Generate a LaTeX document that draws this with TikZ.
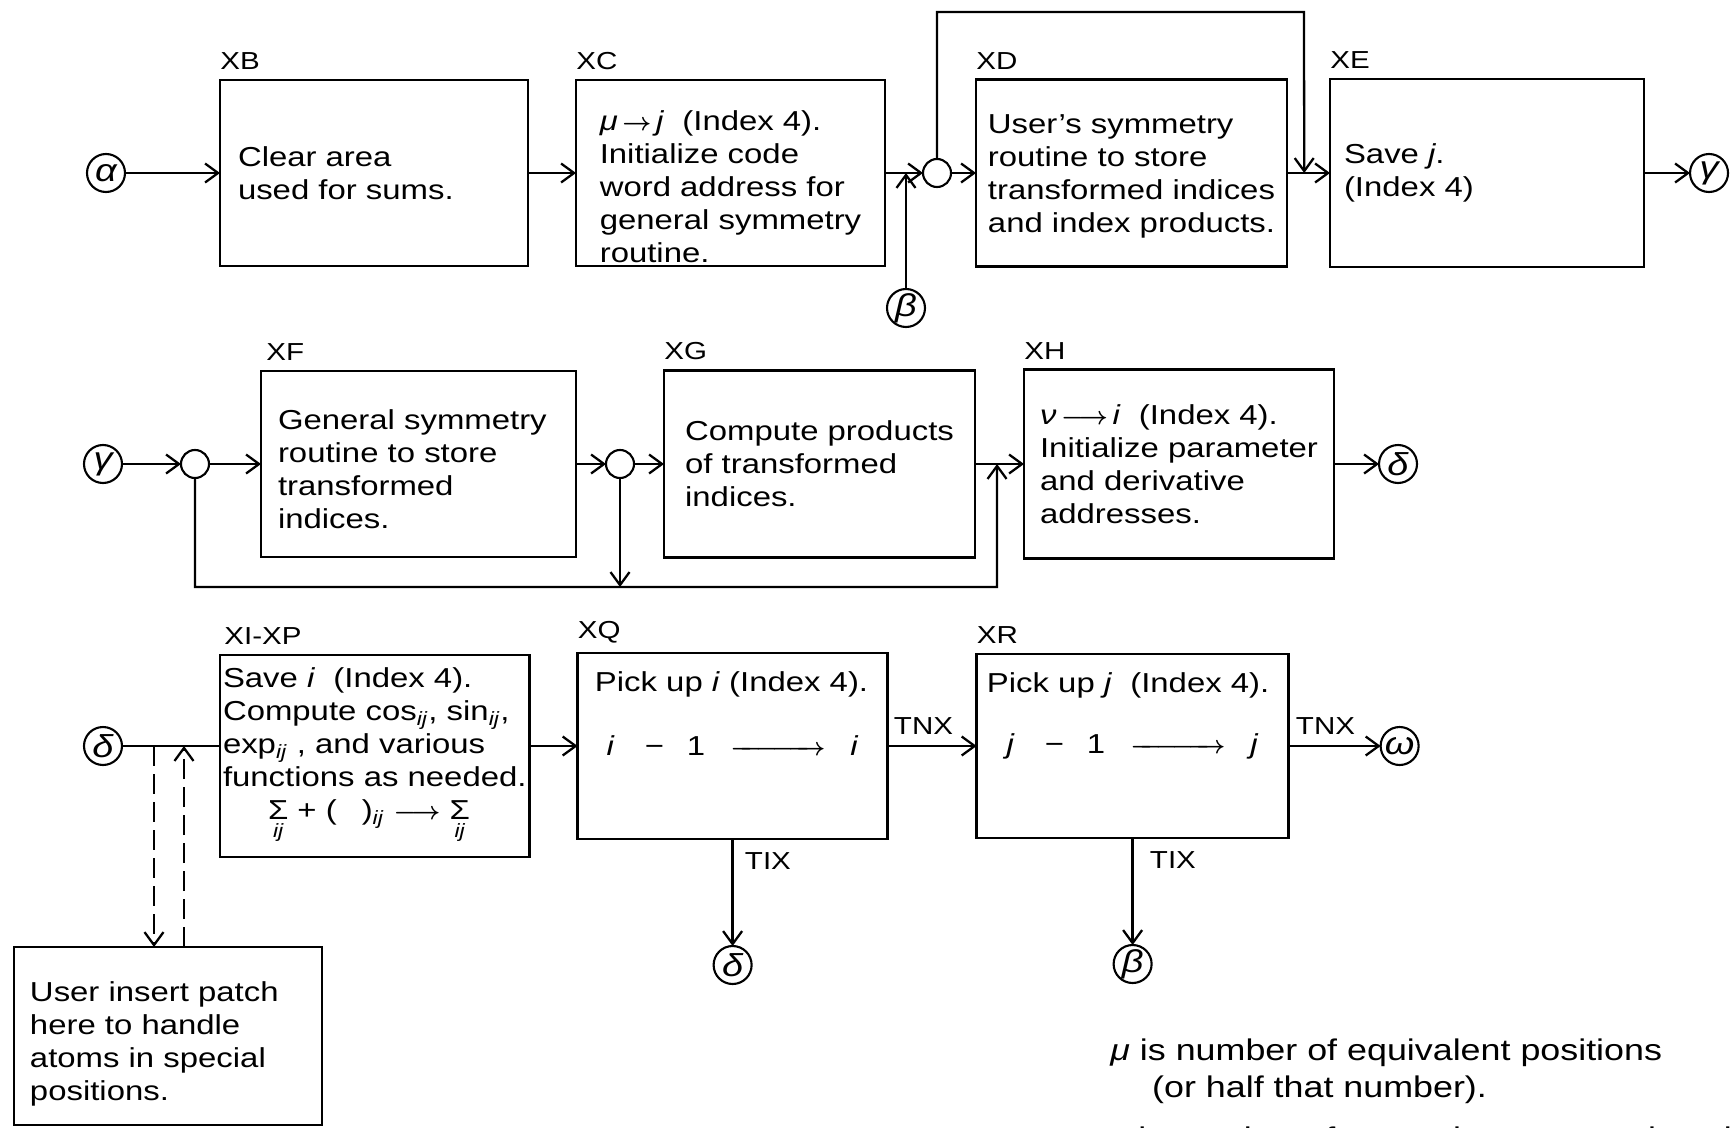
\documentclass[tikz,border=0pt]{standalone}
\usepackage{amsmath}
\usepackage{fontspec}
\setmainfont{Liberation Sans}[FakeStretch=1.2]
\usetikzlibrary{arrows.meta,positioning,calc}
\tikzset{
  fblk/.style={rectangle, draw, line width=1.4pt, align=left, inner xsep=0.6mm, inner ysep=0pt, outer sep=0pt,
               font=\fontsize{15.6}{18.8}\selectfont},
  fcirc/.style={circle, draw, line width=1.2pt, inner sep=0pt, outer sep=0pt, minimum size=7.6mm,
               font=\fontsize{18}{18}\selectfont\itshape},
  fjn/.style={circle, draw, line width=1.2pt, inner sep=0pt, outer sep=0pt, minimum size=5.6mm},
  ftag/.style={inner sep=0pt, font=\fontsize{14}{16}\selectfont},
  ftxt/.style={inner sep=0pt, font=\fontsize{15.6}{18.8}\selectfont},
  farr/.style={-{Straight Barb[length=2.6mm,width=3.8mm]}, line width=1.3pt},
  fline/.style={line width=1.3pt},
  fdash/.style={dash pattern=on 4mm off 1.6mm},
}

\begin{document}
\begin{tikzpicture}[x=0.2mm,y=-0.2mm]
        \useasboundingbox (0,0) rectangle (1731,1127);
        \clip (0,0) rectangle (1731,1127);
        % first row
        \node[fcirc](alpha) at (106,173){α};
        \node[fblk,minimum width=61.6mm,minimum height=37.2mm,text width=54.4mm,inner xsep=3.6mm,right=19mm of alpha](xb){Clear area\\used for sums.};
        \node[fblk,minimum width=61.8mm,minimum height=37.2mm,right=9.6mm of xb](xc){\rule{0pt}{9.6mm}\textit{μ}\,{\boldmath$\rightarrow$}\,\textit{j}\ \ (Index 4).\\Initialize code\\word address for\\general symmetry\\routine.};
        \node[fjn,right=7.6mm of xc](j1){};
        \node[fblk,minimum width=62.2mm,minimum height=37.4mm,right=5mm of j1](xd){\rule{0pt}{5.2mm}User's symmetry\\routine to store\\transformed indices\\and index products.};
        \node[fblk,minimum width=62.8mm,minimum height=37.6mm,text width=57.2mm,inner xsep=2.8mm,right=8.6mm of xd](xe){Save \textit{j}.\\(Index 4)};
        \node[fcirc,right=9.2mm of xe](gamma1){γ};
        \node[fcirc](beta1) at (906,308){β};
        \node[ftag,anchor=south west](lxb) at ([yshift=2mm]xb.north west){XB};
        \node[ftag,anchor=south west](lxc) at ([yshift=2mm]xc.north west){XC};
        \node[ftag,anchor=south west](lxd) at ([yshift=2mm]xd.north west){XD};
        \node[ftag,anchor=south west](lxe) at ([yshift=2mm]xe.north west){XE};
        \draw[farr](alpha)--(xb);\draw[farr](xb)--(xc);\draw[farr](xc)--(j1);\draw[farr](j1)--(xd);\draw[farr](xd)--(xe);\draw[farr](xe)--(gamma1);
        \draw[farr](beta1)--(beta1 |- j1);
        \coordinate (fb1) at ($(xd.east)!0.4!(xe.west)$);
        \coordinate (top1) at (1304,12);
        \draw[farr](j1.north) |- (top1) -- (fb1);
        % second row
        \node[fcirc](gamma2) at (103,464){γ};
        \node[fjn,right=11.8mm of gamma2](j2){};
        \node[fblk,minimum width=63mm,minimum height=37.2mm,text width=56.2mm,inner xsep=3.4mm,right=10.4mm of j2](xf){\rule{0pt}{6mm}General symmetry\\routine to store\\transformed\\indices.};
        \node[fjn,right=6mm of xf](j3){};
        \node[fblk,minimum width=62.2mm,minimum height=37.4mm,right=6mm of j3](xg){Compute products\\of transformed\\indices.};
        \node[fblk,minimum width=62mm,minimum height=37.8mm,right=9.8mm of xg](xh){\textit{ν}\,{\boldmath$\longrightarrow$}\,\textit{i}\ \ (Index 4).\\Initialize parameter\\and derivative\\addresses.};
        \node[fcirc,right=9mm of xh](delta1){δ};
        \node[ftag,anchor=south west](lxf) at ([xshift=1mm,yshift=2mm]xf.north west){XF};
        \node[ftag,anchor=south west](lxg) at ([yshift=2mm]xg.north west){XG};
        \node[ftag,anchor=south west](lxh) at ([yshift=2mm]xh.north west){XH};
        \draw[farr](gamma2)--(j2);\draw[farr](j2)--(xf);\draw[farr](xf)--(j3);\draw[farr](j3)--(xg);\draw[farr](xg)--(xh);\draw[farr](xh)--(delta1);
        \coordinate (fb2) at ($(xg.east)!0.45!(xh.west)$);
        \coordinate (bot2) at (997,587);
        \draw[farr](j2.south) |- (bot2) -- (fb2);
        \draw[farr](j3.south)--(j3.south |- bot2);
        % third row
        \node[fcirc](delta2) at (103,746){δ};
        \node[fblk,minimum width=61.6mm,minimum height=40.4mm,right=19.6mm of delta2,yshift=-2mm](xi){Save \textit{i}\ \ (Index 4).\\Compute cos\textsubscript{\textit{ij}}, sin\textsubscript{\textit{ij}},\\exp\textsubscript{\textit{ij}} , and various\\functions as needed.\\\hspace*{9mm}$\underset{\textit{ij}}{\text{Σ}}$ + (\hspace{5mm})\textsubscript{\textit{ij}} {\boldmath$\longrightarrow$} $\underset{\textit{ij}}{\text{Σ}}$};
        \coordinate (r3) at (xi.east |- delta2);
        \node[fblk,minimum width=62mm,minimum height=37.2mm,right=9.6mm of r3](xq){\textit{i}\hspace{6mm}−\hspace{4.6mm}1\hspace{5mm}{\boldmath$\xrightarrow{\hspace{15.6mm}}$}\hspace{5mm}\textit{i}};
        \node[fblk,minimum width=62.4mm,minimum height=36.8mm,right=17.8mm of xq](xr){\textit{j}\hspace{6mm}−\hspace{4.6mm}1\hspace{5mm}{\boldmath$\xrightarrow{\hspace{15.6mm}}$}\hspace{5mm}\textit{j}};
        \node[fcirc,right=18.4mm of xr](omega){ω};
        \node[fcirc,below=21.4mm of xq](delta3){δ};
        \node[fcirc,below=21.4mm of xr](beta2){β};
        \node[ftxt,anchor=north west](xqt) at ([xshift=3.4mm,yshift=-3.6mm]xq.north west){Pick up \textit{i} (Index 4).};
        \node[ftxt,anchor=north west](xrt) at ([xshift=2mm,yshift=-3.6mm]xr.north west){Pick up \textit{j}\ \ (Index 4).};
        \node[ftag,anchor=south west](lxi) at ([xshift=0.8mm,yshift=2mm]xi.north west){XI-XP};
        \node[ftag,anchor=south west](lxq) at ([yshift=2mm]xq.north west){XQ};
        \node[ftag,anchor=south west](lxr) at ([yshift=2mm]xr.north west){XR};
        \node[ftag,anchor=south west](tnx1) at ([xshift=1.2mm,yshift=2.2mm]xq.east){TNX};
        \node[ftag,anchor=south west](tnx2) at ([xshift=1.4mm,yshift=2.2mm]xr.east){TNX};
        \node[ftag,anchor=north west](tix1) at ([xshift=2.4mm,yshift=-2.6mm]xq.south){TIX};
        \node[ftag,anchor=north west](tix2) at ([xshift=3.4mm,yshift=-2.6mm]xr.south){TIX};
        \draw[fline](delta2)--(delta2 -| xi.west);
        \draw[farr](r3)--(xq);\draw[farr](xq)--(xr);\draw[farr](xr)--(omega);
        \draw[farr](xq)--(delta3);\draw[farr](xr)--(beta2);
        % patch box
        \node[fblk,minimum width=61.6mm,minimum height=35.6mm,text width=55.2mm,inner xsep=3.2mm](ub) at (168,1036){\rule{0pt}{7mm}User insert patch\\here to handle\\atoms in special\\positions.};
        \coordinate (dl) at (154,746);
        \coordinate (dr) at (184,746);
        \draw[farr,fdash](dl)--(dl |- ub.north);
        \draw[farr,fdash](dr |- ub.north)--(dr);
        % notes
        \node[ftxt,anchor=north west,align=left,font=\fontsize{17}{21.6}\selectfont](notes) at (1110,1038){\textit{μ} is number of equivalent positions\\\hspace*{1.4em}(or half that number).\\[2.6mm]\textit{ν} is number of atoms in asymmetric unit};
\end{tikzpicture}
\end{document}
